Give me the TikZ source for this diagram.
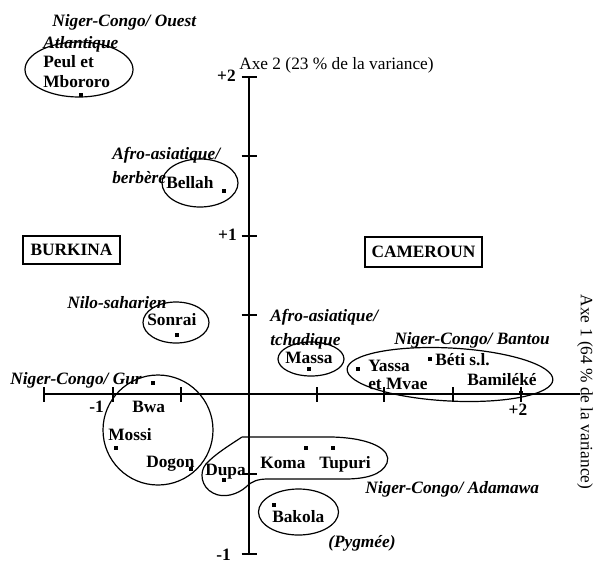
\documentclass[tikz,border=0pt]{standalone}
\usepackage{fontspec}
\setmainfont{Liberation Serif}
\begin{document}
\begin{tikzpicture}[x=0.75pt,y=-0.75pt,
  lbl/.style={inner sep=0pt,font=\fontsize{13}{15}\selectfont\bfseries,anchor=base west},
  fam/.style={inner sep=0pt,font=\fontsize{13}{15}\selectfont\bfseries\itshape,anchor=base west},
  axt/.style={inner sep=0pt,font=\fontsize{13}{15}\selectfont},
  tk/.style={inner sep=0pt,font=\fontsize{13}{15}\selectfont\bfseries},
  boxlbl/.style={draw,line width=0.8pt,inner sep=0pt,font=\fontsize{13}{15}\selectfont\bfseries},
  pt/.style={fill,inner sep=0pt,minimum size=3pt},
  grp/.style={line width=0.9pt},
  ax/.style={line width=1pt}]
\useasboundingbox (0,0) rectangle (596,562);

% axes
\coordinate (xl) at (44,394);
\coordinate (xr) at (580,394);
\coordinate (yt) at (249,77);
\coordinate (yb) at (249,554);
\draw[ax] (xl) -- (xr);
\draw[ax] (yt) -- (yb);
\foreach \xx in {44,113,181,317,384,453,521}
  \draw[ax] (\xx,387) -- (\xx,402);
\foreach \yy in {77,156,236,315,474,554}
  \draw[ax] (241.5,\yy) -- (256.5,\yy);

\node[tk,anchor=mid east] (yp2) at (236,78) {+2};
\node[tk,anchor=mid east] (yp1) at (237,237) {+1};
\node[tk,anchor=mid east] (ym1) at (231,557) {-1};
\node[tk,anchor=mid east] (xm1) at (104,409) {-1};
\node[tk] (xp2) at (518,410) {+2};
\node[axt,anchor=base west] (axe2) at (239,69) {Axe 2 (23 \% de la variance)};
\node[axt,rotate=-90] (axe1) at (585,392) {Axe 1 (64 \% de la variance)};

% country boxes
\node[boxlbl,minimum width=72.75pt,minimum height=21pt] (burkina) at (71.5,250) {BURKINA};
\node[boxlbl,minimum width=87.75pt,minimum height=22.5pt] (cameroun) at (423.5,252) {CAMEROUN};

% group outlines
\draw[grp] (79,69.5) ellipse [x radius=54, y radius=27.5];
\draw[grp] (200,183) ellipse [x radius=38, y radius=24];
\draw[grp] (176,322.5) ellipse [x radius=33, y radius=20.5];
\draw[grp] (158,430) circle [radius=55];
\draw[grp] (311,359) ellipse [x radius=33, y radius=17];
\draw[grp,rotate around={-3:(450,374.5)}] (450,374.5) ellipse [x radius=103, y radius=26.5];
\draw[grp] (298.5,512) ellipse [x radius=40, y radius=23];
\draw[grp] (242,437) -- (332,437)
  .. controls (372,438) and (392,450) .. (387,463)
  .. controls (382,475) and (365,479) .. (345,479)
  -- (268,479)
  .. controls (258,479) and (252,481) .. (246,487)
  .. controls (238,494) and (224,499) .. (213,493)
  .. controls (201,487) and (199,472) .. (206,464)
  .. controls (215,454) and (230,445) .. (242,437);

% family labels
\node[fam] (ncouest) at (52,26) {Niger-Congo/ Ouest};
\node[fam] (atlant) at (43,48) {Atlantique};
\node[fam] (afrob) at (112,159) {Afro-asiatique/};
\node[fam] (berbere) at (112,183) {berbère};
\node[fam] (nilo) at (67,308) {Nilo-saharien};
\node[fam] (gur) at (10,384) {Niger-Congo/ Gur};
\node[fam] (afrot) at (270,321) {Afro-asiatique/};
\node[fam] (tchad) at (270,345) {tchadique};
\node[fam] (bantou) at (394,344) {Niger-Congo/ Bantou};
\node[fam] (adamawa) at (365,493) {Niger-Congo/ Adamawa};
\node[fam] (pygmee) at (328,547) {(Pygmée)};

% population labels
\node[lbl] (peul) at (43,67) {Peul et};
\node[lbl] (mbororo) at (43,87) {Mbororo};
\node[lbl] (bellah) at (166,188) {Bellah};
\node[lbl] (sonrai) at (147,325) {Sonrai};
\node[lbl] (bwa) at (132,412) {Bwa};
\node[lbl] (mossi) at (108,440) {Mossi};
\node[lbl] (dogon) at (146,467) {Dogon};
\node[lbl] (dupa) at (205,475) {Dupa};
\node[lbl] (koma) at (260,468) {Koma};
\node[lbl] (tupuri) at (319,468) {Tupuri};
\node[lbl] (bakola) at (272,522) {Bakola};
\node[lbl] (massa) at (285,363) {Massa};
\node[lbl] (yassa) at (368,371) {Yassa};
\node[lbl] (mvae) at (368,389) {et Mvae};
\node[lbl] (beti) at (435,365) {Béti s.l.};
\node[lbl] (bamileke) at (467,385) {Bamiléké};

% points
\node[pt] (ppeul) at (81,95) {};
\node[pt] (pbellah) at (224,191) {};
\node[pt] (psonrai) at (177,335) {};
\node[pt] (pbwa) at (153,383) {};
\node[pt] (pmossi) at (116,448) {};
\node[pt] (pdogon) at (191,469) {};
\node[pt] (pdupa) at (224,480) {};
\node[pt] (pkoma) at (306,448) {};
\node[pt] (ptupuri) at (333,448) {};
\node[pt] (pbakola) at (274,505) {};
\node[pt] (pmassa) at (309,369) {};
\node[pt] (pyassa) at (358,369) {};
\node[pt] (pbeti) at (430,359) {};
\node[pt] (pbamileke) at (521,393) {};
\end{tikzpicture}
\end{document}
